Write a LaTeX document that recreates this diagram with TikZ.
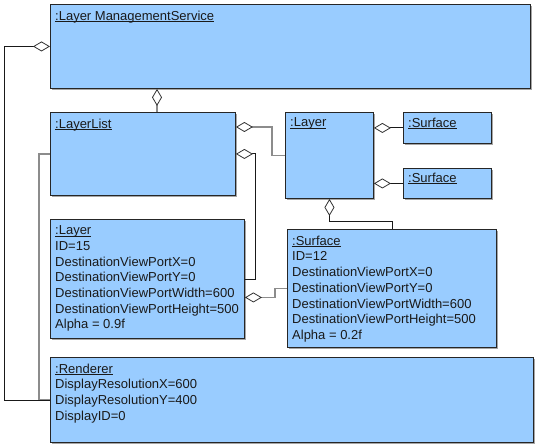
\documentclass[tikz,border=0pt]{standalone}
\usepackage{fontspec}
\setmainfont{Liberation Sans}
\usetikzlibrary{arrows.meta,shadows}
\definecolor{boxblue}{HTML}{99CCFF}
\definecolor{txt}{HTML}{1A1A1A}
\definecolor{gline}{HTML}{8C8C8C}
\newcommand\utitle[1]{\setbox0\hbox{#1}\rlap{\rule[-1.9pt]{\wd0}{0.8pt}}\box0}
\tikzset{
  obj/.style={draw=black!85, line width=0.9pt, fill=boxblue, anchor=north west, inner sep=0pt,
    drop shadow={shadow xshift=1.3pt, shadow yshift=-1.3pt, fill=black!35, opacity=1}},
  lbl/.style={anchor=north west, inner sep=0pt, align=left, text=txt,
    font=\fontsize{13}{15.7}\selectfont},
  dia/.style={{Diamond[fill=white, color=black!80, line width=0.8pt, length=17pt, width=10pt]}-},
  blk/.style={draw=black!90, line width=0.9pt},
  gry/.style={draw=gline, line width=1.6pt},
}
\begin{document}
\begin{tikzpicture}[x=1pt,y=-1pt]
\useasboundingbox (0,0) rectangle (537,446);
% boxes
\node[obj, minimum width=480pt, minimum height=84pt] (lms) at (50,4) {};
\node[obj, minimum width=185pt, minimum height=83pt] (ll) at (50,112) {};
\node[obj, minimum width=88pt, minimum height=86pt] (lay) at (285,112) {};
\node[obj, minimum width=88pt, minimum height=31pt] (s1) at (403,112) {};
\node[obj, minimum width=88pt, minimum height=30pt] (s2) at (403,168) {};
\node[obj, minimum width=194pt, minimum height=119pt] (ld) at (50,219) {};
\node[obj, minimum width=209pt, minimum height=118pt] (sd) at (287,229) {};
\node[obj, minimum width=483pt, minimum height=85pt] (rend) at (50,357) {};
% texts
\node[lbl] (lmsT) at (55,10.6) {\utitle{:Layer ManagementService}};
\node[lbl] (llT) at (55,118.6) {\utitle{:LayerList}};
\node[lbl] (layT) at (290,117.6) {\utitle{:Layer}};
\node[lbl] (s1T) at (408,117.6) {\utitle{:Surface}};
\node[lbl] (s2T) at (408,172.6) {\utitle{:Surface}};
\node[lbl] (ldT) at (55,225.6) {\utitle{:Layer}\\ID=15\\DestinationViewPortX=0\\DestinationViewPortY=0\\DestinationViewPortWidth=600\\DestinationViewPortHeight=500\\Alpha = 0.9f};
\node[lbl] (sdT) at (292,235.6) {\utitle{:Surface}\\ID=12\\DestinationViewPortX=0\\DestinationViewPortY=0\\DestinationViewPortWidth=600\\DestinationViewPortHeight=500\\Alpha = 0.2f};
\node[lbl] (rendT) at (55,363.6) {\utitle{:Renderer}\\DisplayResolutionX=600\\DisplayResolutionY=400\\DisplayID=0};
% connectors
\draw[gry] (ll.west) -- ++(-11,0) |- (rend.west);
\draw[blk, dia] (lms.west) -- ++(-46,0) |- (rend.west);
\draw[gry, dia] ([xshift=107pt]lms.south west) -- ([xshift=107pt]ll.north west);
\draw[gry, dia] ([yshift=-15pt]ll.north east) -- ++(36,0) |- (lay.west);
\draw[blk, dia] (ll.east) -- ++(20,0) |- (ld.east);
\draw[blk, dia] (s1.west -| lay.east) -- (s1.west);
\draw[blk, dia] (s2.west -| lay.east) -- (s2.west);
\draw[blk, dia] (lay.south) -- ++(0,23) -| (sd.north);
\draw[gry, dia] ([yshift=-18.5pt]ld.east) -- ++(30,0) |- (sd.west);
\end{tikzpicture}
\end{document}
